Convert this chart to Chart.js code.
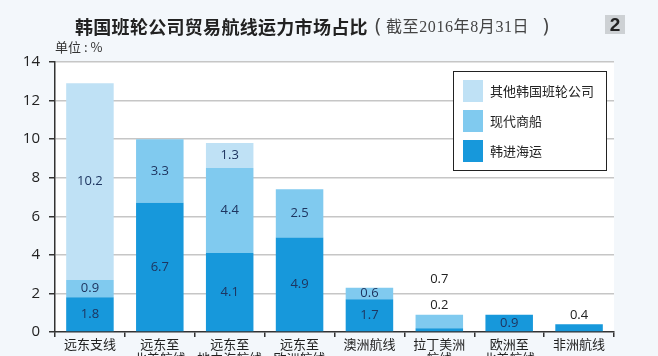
<!DOCTYPE html>
<html>
<head>
<meta charset="utf-8">
<script src="https://cdn.jsdelivr.net/npm/chart.js@4.4.1/dist/chart.umd.min.js"></script>
<style>
html,body{margin:0;padding:0;width:658px;height:356px;overflow:hidden;background:#f3f7fb;}
#wrap{position:relative;width:658px;height:356px;overflow:hidden;}
canvas{position:absolute;left:0;top:0;}
.t{position:absolute;white-space:nowrap;color:#222;line-height:1;}
#title{left:75px;top:17px;font-family:"Noto Sans CJK SC","Noto Sans",sans-serif;font-weight:bold;font-size:18px;letter-spacing:0.3px;}
#pl{left:375px;top:16px;font-family:"Noto Sans",sans-serif;font-size:19px;color:#444;}
#sub{left:386px;top:19px;font-family:"Liberation Serif","Noto Sans CJK SC",serif;font-size:16px;letter-spacing:0.6px;color:#444;}
#pr{left:543px;top:16px;font-family:"Noto Sans",sans-serif;font-size:19px;color:#444;}
#badge{left:605px;top:15px;width:20px;height:19px;background:#cdd1d4;font-family:"Liberation Sans",sans-serif;font-weight:bold;font-size:19px;text-align:center;line-height:19px;}
#unit{left:55px;top:40px;font-family:"Noto Sans CJK SC",sans-serif;font-size:13px;color:#333;}
</style>
</head>
<body>
<div id="wrap">
<canvas id="c" width="658" height="372"></canvas>
<div class="t" id="title">韩国班轮公司贸易航线运力市场占比</div>
<div class="t" id="pl">(</div>
<div class="t" id="sub">截至2016年8月31日</div>
<div class="t" id="pr">)</div>
<div class="t" id="badge">2</div>
<div class="t" id="unit">单位 : %</div>
</div>
<script>
const categories = [
  '远东支线',
  ['远东至', '北美航线'],
  ['远东至', '地中海航线'],
  ['远东至', '欧洲航线'],
  '澳洲航线',
  ['拉丁美洲', '航线'],
  ['欧洲至', '北美航线'],
  '非洲航线'
];
const seriesNames = ['韩进海运', '现代商船', '其他韩国班轮公司'];
const hanjin  = [1.8, 6.7, 4.1, 4.9, 1.7, 0.2, 0.9, 0.4];
const hyundai = [0.9, 3.3, 4.4, 2.5, 0.6, 0.7, 0, 0];
const others  = [10.2, 0, 1.3, 0, 0, 0, 0, 0];
const yTicks = [0, 2, 4, 6, 8, 10, 12, 14];
const colors = ['#1798db', '#80caef', '#bfe1f5'];

const areaBg = {
  id: 'areaBg',
  beforeDraw(chart) {
    const {ctx, chartArea: a} = chart;
    ctx.save();
    ctx.fillStyle = '#ffffff';
    ctx.fillRect(a.left, a.top, a.right - a.left, a.bottom - a.top);
    ctx.restore();
  }
};

const valueLabels = {
  id: 'valueLabels',
  afterDatasetsDraw(chart) {
    const ctx = chart.ctx;
    const n = chart.data.labels.length;
    ctx.save();
    ctx.font = '13px "Open Sans", "Noto Sans", sans-serif';
    ctx.textAlign = 'center';
    ctx.textBaseline = 'middle';
    for (let i = 0; i < n; i++) {
      let topY = Infinity;
      chart.data.datasets.forEach((ds, di) => {
        const v = ds.data[i];
        if (v) topY = Math.min(topY, chart.getDatasetMeta(di).data[i].y);
      });
      let outside = false, k = 0;
      chart.data.datasets.forEach((ds, di) => {
        const v = ds.data[i];
        if (!v) return;
        const el = chart.getDatasetMeta(di).data[i];
        const h = el.base - el.y;
        if (h < 10) outside = true;
        const txt = v.toFixed(1);
        if (outside) {
          ctx.fillStyle = '#222222';
          ctx.fillText(txt, el.x, topY - 9 - 26 * k);
          k++;
        } else {
          ctx.fillStyle = '#1e3560';
          ctx.fillText(txt, el.x, (el.y + el.base) / 2);
        }
      });
    }
    ctx.restore();
  }
};

const boxLegend = {
  id: 'boxLegend',
  afterDraw(chart) {
    const {ctx, chartArea: a} = chart;
    const w = 153, h = 99;
    const x = a.right - 8 - w, y = a.top + 9;
    ctx.save();
    ctx.fillStyle = '#ffffff';
    ctx.fillRect(x, y, w, h);
    ctx.strokeStyle = '#222222';
    ctx.lineWidth = 1;
    ctx.strokeRect(x + 0.5, y + 0.5, w, h);
    ctx.font = '13px "Noto Sans CJK SC", sans-serif';
    ctx.textBaseline = 'middle';
    ctx.textAlign = 'left';
    const items = chart.data.datasets.slice().reverse();
    items.forEach((ds, j) => {
      const cy = y + 20 + j * 30;
      ctx.fillStyle = ds.backgroundColor;
      ctx.fillRect(x + 10, cy - 11, 20, 22);
      ctx.fillStyle = '#222222';
      ctx.fillText(ds.label, x + 37, cy);
    });
    ctx.restore();
  }
};

new Chart(document.getElementById('c'), {
  type: 'bar',
  data: {
    labels: categories,
    datasets: [
      {label: seriesNames[0], data: hanjin, backgroundColor: colors[0]},
      {label: seriesNames[1], data: hyundai, backgroundColor: colors[1]},
      {label: seriesNames[2], data: others, backgroundColor: colors[2]}
    ]
  },
  options: {
    responsive: false,
    animation: false,
    devicePixelRatio: 1,
    layout: {padding: {top: 62, right: 44, left: 0, bottom: 0}},
    datasets: {bar: {barPercentage: 0.68, categoryPercentage: 1, borderWidth: 0}},
    plugins: {legend: {display: false}, tooltip: {enabled: false}, title: {display: false}},
    scales: {
      x: {
        stacked: true,
        grid: {drawOnChartArea: false, offset: true, tickLength: 5, color: '#333333', lineWidth: 1.5},
        border: {color: '#333333', width: 1.5},
        ticks: {color: '#222222', font: {size: 13, family: '"Noto Sans CJK SC", sans-serif', lineHeight: 1.08}, padding: 0, maxRotation: 0, autoSkip: false},
        afterFit(s) { s.height = 40; }
      },
      y: {
        stacked: true,
        min: 0,
        max: 14,
        afterBuildTicks(s) { s.ticks = yTicks.map(v => ({value: v})); },
        grid: {
          color: (c) => (c.tick && c.tick.value === 0) ? 'rgba(0,0,0,0)' : '#c6c6c6',
          lineWidth: 1.5,
          tickLength: 6,
          tickColor: '#333333'
        },
        border: {color: '#333333', width: 1.5},
        ticks: {color: '#222222', font: {size: 15, family: '"Open Sans", sans-serif'}, padding: 9},
        afterFit(s) { s.width = 55; }
      }
    }
  },
  plugins: [areaBg, valueLabels, boxLegend]
});
</script>
</body>
</html>
